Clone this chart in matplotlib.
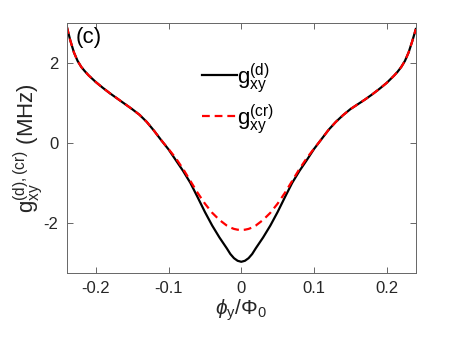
import matplotlib
matplotlib.use("Agg")
import matplotlib.pyplot as plt

plt.rcParams['font.family'] = ['Liberation Sans', 'DejaVu Sans']
plt.rcParams['mathtext.fontset'] = 'custom'
plt.rcParams['mathtext.rm'] = 'Liberation Sans'
plt.rcParams['mathtext.it'] = 'Liberation Sans:italic'
plt.rcParams['axes.unicode_minus'] = False

# flux bias phi_y / Phi_0
phi = [-0.24, -0.235, -0.23, -0.225, -0.22, -0.215, -0.21, -0.20, -0.19, -0.18,
       -0.17, -0.16, -0.15, -0.14, -0.13, -0.12, -0.11, -0.10, -0.09, -0.08,
       -0.07, -0.06, -0.05, -0.04, -0.03, -0.02, -0.015, -0.01, -0.005,
       0.0,
       0.005, 0.01, 0.015, 0.02, 0.03, 0.04, 0.05, 0.06, 0.07, 0.08,
       0.09, 0.10, 0.11, 0.12, 0.13, 0.14, 0.15, 0.16, 0.17, 0.18,
       0.19, 0.20, 0.21, 0.215, 0.22, 0.225, 0.23, 0.235, 0.24]

# g_xy^(d)  (MHz)
g_d = [2.93, 2.57, 2.27, 2.06, 1.91, 1.80, 1.70, 1.53, 1.38, 1.24,
       1.11, 0.98, 0.85, 0.71, 0.53, 0.31, 0.07, -0.16, -0.43, -0.70,
       -1.00, -1.36, -1.73, -2.07, -2.37, -2.64, -2.785, -2.89, -2.955,
       -2.98,
       -2.955, -2.89, -2.785, -2.64, -2.37, -2.07, -1.73, -1.36, -1.00, -0.70,
       -0.43, -0.15, 0.09, 0.33, 0.53, 0.70, 0.85, 0.97, 1.09, 1.22,
       1.36, 1.51, 1.69, 1.79, 1.91, 2.06, 2.27, 2.55, 2.86]

# g_xy^(cr)  (MHz)
g_cr = [2.93, 2.57, 2.27, 2.06, 1.91, 1.80, 1.70, 1.53, 1.38, 1.24,
        1.11, 0.98, 0.85, 0.71, 0.53, 0.31, 0.07, -0.15, -0.38, -0.65,
        -0.95, -1.25, -1.52, -1.75, -1.93, -2.07, -2.12, -2.155, -2.175,
        -2.18,
        -2.175, -2.155, -2.12, -2.07, -1.93, -1.75, -1.52, -1.25, -0.95, -0.65,
        -0.38, -0.14, 0.09, 0.33, 0.53, 0.70, 0.85, 0.97, 1.09, 1.22,
        1.36, 1.51, 1.69, 1.79, 1.91, 2.06, 2.27, 2.55, 2.86]

fig = plt.figure(figsize=(4.6, 3.45), dpi=100)
ax = fig.add_axes([0.145, 0.21, 0.759, 0.722])

ax.plot(phi, g_d, color='black', lw=1.6, label=r'$\mathregular{g_{xy}^{(d)}}$')
ax.plot(phi, g_cr, color='red', lw=1.6, ls=(0, (3.5, 2.2)),
        label=r'$\mathregular{g_{xy}^{(cr)}}$')

ax.set_xlim(-0.24, 0.24)
ax.set_ylim(-3.25, 3.0)
ax.set_xticks([-0.2, -0.1, 0, 0.1, 0.2])
ax.set_xticklabels(['-0.2', '-0.1', '0', '0.1', '0.2'])
ax.set_yticks([-2, 0, 2])
ax.set_yticklabels(['-2', '0', '2'])

for s in ax.spines.values():
    s.set_color('#666666')
    s.set_linewidth(0.7)
ax.tick_params(direction='in', top=True, right=True, length=4, width=0.7,
               color='#666666', labelsize=12, labelcolor='#262626', pad=6)

ax.set_xlabel(r'$\phi_\mathregular{y}/\Phi_\mathregular{0}$', fontsize=15, color='#262626',
              labelpad=1)
ax.set_ylabel(r'$\mathregular{g_{xy}^{(d),(cr)}}$ (MHz)', fontsize=16, color='#262626',
              labelpad=-1)

ax.text(0.025, 0.985, '(c)', transform=ax.transAxes, fontsize=16,
        ha='left', va='top', color='black')

ax.legend(loc='upper left', bbox_to_anchor=(0.33, 0.93), frameon=False,
          fontsize=16, handlelength=1.6, handletextpad=0.0, labelspacing=0.3)

fig.savefig('out.png', dpi=100)
